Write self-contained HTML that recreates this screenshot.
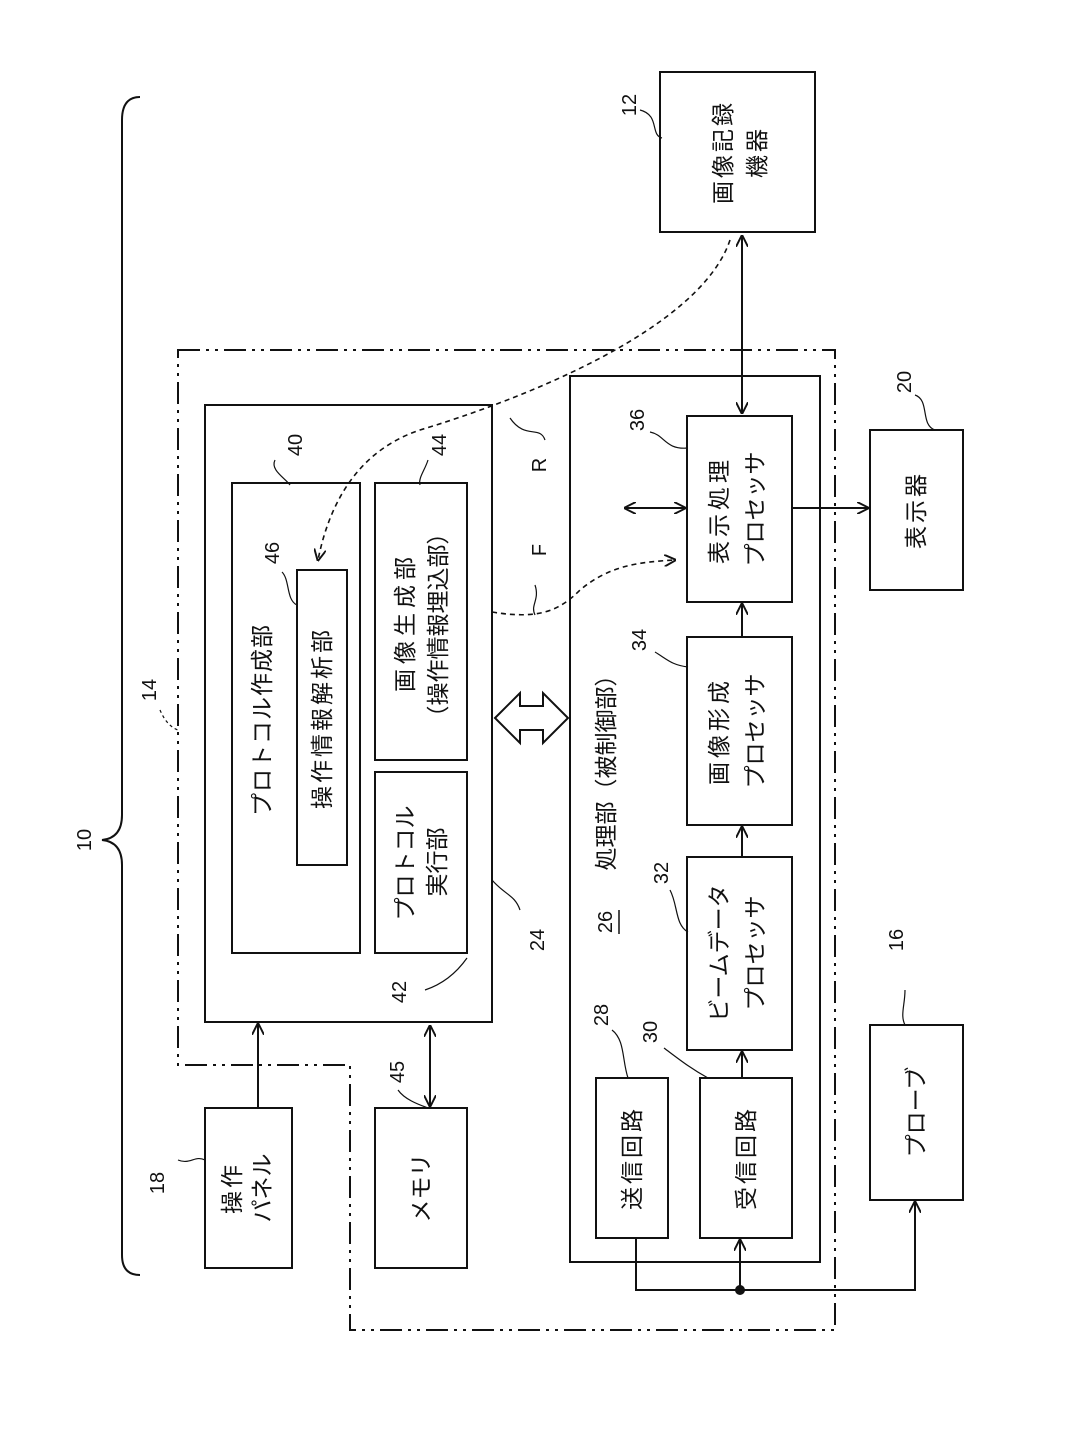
<!DOCTYPE html>
<html><head><meta charset="utf-8"><style>
html,body{margin:0;padding:0;background:#fff;}
svg{display:block;}
text{font-family:"Liberation Sans","Noto Sans CJK JP",sans-serif;fill:#111;}
.t{font-size:23px;letter-spacing:3px;}
.k{font-size:23px;letter-spacing:0px;}
.n{font-size:20px;}
</style></head><body>
<svg width="1071" height="1433" viewBox="0 0 1071 1433" xmlns="http://www.w3.org/2000/svg">
<defs>
<marker id="a" viewBox="0 0 10 10" refX="9" refY="5" markerWidth="12" markerHeight="12" markerUnits="userSpaceOnUse" orient="auto-start-reverse"><path d="M0,0 L10,5 L0,10" fill="none" stroke="#111" stroke-width="1.6"/></marker>
</defs>
<g fill="none" stroke="#111" stroke-width="2">
<path d="M140,97 Q122,97 122,120 L122,815 Q122,838 102,840 Q122,842 122,865 L122,1255 Q122,1275 140,1275"/>
<path d="M178,350 L835,350 L835,1330 L350,1330 L350,1065 L178,1065 Z" stroke-dasharray="22,6,3,6,3,6"/>
<rect x="205" y="405" width="287" height="617"/>
<rect x="232" y="483" width="128" height="470"/>
<rect x="297" y="570" width="50" height="295"/>
<rect x="375" y="483" width="92" height="277"/>
<rect x="375" y="772" width="92" height="181"/>
<rect x="570" y="376" width="250" height="886"/>
<rect x="687" y="416" width="105" height="186"/>
<rect x="687" y="637" width="105" height="188"/>
<rect x="687" y="857" width="105" height="193"/>
<rect x="700" y="1078" width="92" height="160"/>
<rect x="596" y="1078" width="72" height="160"/>
<rect x="660" y="72" width="155" height="160"/>
<rect x="870" y="430" width="93" height="160"/>
<rect x="870" y="1025" width="93" height="175"/>
<rect x="205" y="1108" width="87" height="160"/>
<rect x="375" y="1108" width="92" height="160"/>
<path d="M495,718 L520,693 L520,706 L543,706 L543,693 L568,718 L543,743 L543,730 L520,730 L520,743 Z"/>
<line x1="258" y1="1108" x2="258" y2="1024" marker-end="url(#a)"/>
<line x1="430" y1="1026" x2="430" y2="1106" marker-start="url(#a)" marker-end="url(#a)"/>
<line x1="742" y1="236" x2="742" y2="413" marker-start="url(#a)" marker-end="url(#a)"/>
<line x1="792" y1="508" x2="868" y2="508" marker-end="url(#a)"/>
<line x1="625" y1="508" x2="685" y2="508" marker-start="url(#a)" marker-end="url(#a)"/>
<line x1="742" y1="637" x2="742" y2="604" marker-end="url(#a)"/>
<line x1="742" y1="857" x2="742" y2="827" marker-end="url(#a)"/>
<line x1="742" y1="1078" x2="742" y2="1052" marker-end="url(#a)"/>
<path d="M636,1238 L636,1290 L915,1290 L915,1202" marker-end="url(#a)"/>
<line x1="740" y1="1290" x2="740" y2="1240" marker-end="url(#a)"/>
<path d="M730,240 C700,330 520,400 420,430 C360,450 330,500 318,560" stroke-dasharray="5,4" marker-end="url(#a)" stroke-width="1.6"/>
<path d="M492,612 C540,620 560,610 580,590 C610,565 640,562 675,560" stroke-dasharray="5,4" marker-end="url(#a)" stroke-width="1.6"/>
<g stroke-width="1.2">
<path d="M640,110 C660,115 650,135 662,138"/>
<path d="M915,395 C930,400 920,425 935,430"/>
<path d="M275,460 C270,470 285,478 290,485"/>
<path d="M282,572 C290,580 286,600 297,605"/>
<path d="M428,460 C425,470 418,478 420,485"/>
<path d="M650,432 C665,435 665,450 688,448"/>
<path d="M655,652 C668,660 672,665 688,667"/>
<path d="M670,890 C678,905 675,925 688,932"/>
<path d="M612,1030 C625,1040 622,1060 628,1078"/>
<path d="M664,1048 C680,1060 690,1068 708,1078"/>
<path d="M905,990 C905,1005 900,1015 905,1025"/>
<path d="M492,880 C505,895 515,895 520,910"/>
<path d="M467,958 C455,975 440,985 425,990"/>
<path d="M398,1090 C405,1100 420,1105 428,1108"/>
<path d="M178,1160 C190,1165 195,1155 205,1160"/>
<path d="M160,710 C165,722 172,728 178,730" stroke-dasharray="3,3"/>
<path d="M510,418 C525,440 540,425 545,440"/>
<path d="M535,585 C540,600 530,605 535,615"/>
</g>
</g>
<circle cx="740" cy="1290" r="5" fill="#111"/>
<g>
<text class="t" transform="translate(723,152) rotate(-90)" text-anchor="middle" dominant-baseline="central">画像記録</text>
<text class="t" transform="translate(757,152) rotate(-90)" text-anchor="middle" dominant-baseline="central">機器</text>
<text class="t" transform="translate(262,720) rotate(-90)" text-anchor="middle" dominant-baseline="central" style="letter-spacing:1px">プロトコル作成部</text>
<text class="t" transform="translate(322,718) rotate(-90)" text-anchor="middle" dominant-baseline="central">操作情報解析部</text>
<text class="t" transform="translate(405,622) rotate(-90)" text-anchor="middle" dominant-baseline="central" style="letter-spacing:5px">画像生成部</text>
<text class="k" transform="translate(438,625) rotate(-90)" text-anchor="middle" dominant-baseline="central">（操作情報埋込部）</text>
<text class="k" transform="translate(405,863) rotate(-90)" text-anchor="middle" dominant-baseline="central">プロトコル</text>
<text class="k" transform="translate(437,862) rotate(-90)" text-anchor="middle" dominant-baseline="central">実行部</text>
<text class="t" transform="translate(719,510) rotate(-90)" text-anchor="middle" dominant-baseline="central" style="letter-spacing:4px">表示処理</text>
<text class="k" transform="translate(755,509) rotate(-90)" text-anchor="middle" dominant-baseline="central">プロセッサ</text>
<text class="t" transform="translate(719,731) rotate(-90)" text-anchor="middle" dominant-baseline="central" style="letter-spacing:4px">画像形成</text>
<text class="k" transform="translate(755,731) rotate(-90)" text-anchor="middle" dominant-baseline="central">プロセッサ</text>
<text class="k" transform="translate(719,953) rotate(-90)" text-anchor="middle" dominant-baseline="central">ビームデータ</text>
<text class="k" transform="translate(755,953) rotate(-90)" text-anchor="middle" dominant-baseline="central">プロセッサ</text>
<text class="t" transform="translate(746,1158) rotate(-90)" text-anchor="middle" dominant-baseline="central">受信回路</text>
<text class="t" transform="translate(632,1158) rotate(-90)" text-anchor="middle" dominant-baseline="central">送信回路</text>
<text class="t" transform="translate(916,510) rotate(-90)" text-anchor="middle" dominant-baseline="central">表示器</text>
<text class="k" transform="translate(916,1112) rotate(-90)" text-anchor="middle" dominant-baseline="central">プローブ</text>
<text class="t" transform="translate(232,1188) rotate(-90)" text-anchor="middle" dominant-baseline="central">操作</text>
<text class="k" transform="translate(262,1188) rotate(-90)" text-anchor="middle" dominant-baseline="central">パネル</text>
<text class="k" transform="translate(421,1188) rotate(-90)" text-anchor="middle" dominant-baseline="central">メモリ</text>
<text class="k" transform="translate(606,767) rotate(-90)" text-anchor="middle" dominant-baseline="central">処理部（被制御部）</text>
<text class="n" transform="translate(606,922) rotate(-90)" text-anchor="middle" dominant-baseline="central">26</text>
<line x1="619" y1="910" x2="619" y2="934" stroke="#111" stroke-width="1.5"/>
<text class="n" transform="translate(630,105) rotate(-90)" text-anchor="middle" dominant-baseline="central">12</text>
<text class="n" transform="translate(85,840) rotate(-90)" text-anchor="middle" dominant-baseline="central">10</text>
<text class="n" transform="translate(150,690) rotate(-90)" text-anchor="middle" dominant-baseline="central">14</text>
<text class="n" transform="translate(296,445) rotate(-90)" text-anchor="middle" dominant-baseline="central">40</text>
<text class="n" transform="translate(273,553) rotate(-90)" text-anchor="middle" dominant-baseline="central">46</text>
<text class="n" transform="translate(440,445) rotate(-90)" text-anchor="middle" dominant-baseline="central">44</text>
<text class="n" transform="translate(638,420) rotate(-90)" text-anchor="middle" dominant-baseline="central">36</text>
<text class="n" transform="translate(640,640) rotate(-90)" text-anchor="middle" dominant-baseline="central">34</text>
<text class="n" transform="translate(662,873) rotate(-90)" text-anchor="middle" dominant-baseline="central">32</text>
<text class="n" transform="translate(602,1015) rotate(-90)" text-anchor="middle" dominant-baseline="central">28</text>
<text class="n" transform="translate(651,1032) rotate(-90)" text-anchor="middle" dominant-baseline="central">30</text>
<text class="n" transform="translate(538,940) rotate(-90)" text-anchor="middle" dominant-baseline="central">24</text>
<text class="n" transform="translate(400,992) rotate(-90)" text-anchor="middle" dominant-baseline="central">42</text>
<text class="n" transform="translate(398,1072) rotate(-90)" text-anchor="middle" dominant-baseline="central">45</text>
<text class="n" transform="translate(158,1183) rotate(-90)" text-anchor="middle" dominant-baseline="central">18</text>
<text class="n" transform="translate(897,940) rotate(-90)" text-anchor="middle" dominant-baseline="central">16</text>
<text class="n" transform="translate(905,382) rotate(-90)" text-anchor="middle" dominant-baseline="central">20</text>
<text class="n" transform="translate(540,465) rotate(-90)" text-anchor="middle" dominant-baseline="central">R</text>
<text class="n" transform="translate(540,550) rotate(-90)" text-anchor="middle" dominant-baseline="central">F</text>
</g>
</svg>
</body></html>
